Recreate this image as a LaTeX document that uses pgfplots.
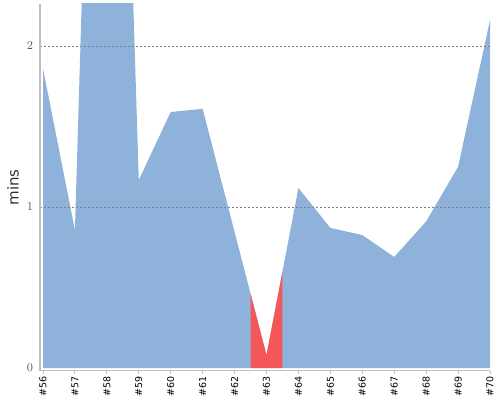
\documentclass[border=0pt]{standalone}
\usepackage{fontspec}
\setmainfont{DejaVu Sans}
\usepackage{pgfplots}
\pgfplotsset{compat=1.18}
\usepgfplotslibrary{fillbetween}
\definecolor{areablue}{HTML}{8FB2DA}
\definecolor{areared}{HTML}{F45757}
\begin{document}
\begin{tikzpicture}
\begin{axis}[
  at={(0,0)}, anchor=south west,
  scale only axis, width=337.5pt, height=275.25pt,
  xmin=55.906, xmax=70, ymin=-0.0186, ymax=2.261,
  axis x line*=bottom, axis y line*=left,
  axis line style={draw=black!25, line width=0.75pt, -},
  axis on top,
  xtick={56,...,70},
  xticklabels={\#56,\#57,\#58,\#59,\#60,\#61,\#62,\#63,\#64,\#65,\#66,\#67,\#68,\#69,\#70},
  ytick={1,2},
  extra y ticks={0},
  extra y tick style={grid=none},
  ymajorgrids,
  major grid style={dash pattern=on 1.5pt off 1.5pt, draw=black!50, line width=0.45pt},
  tick align=outside,
  major tick length=2.5pt,
  tick style={draw=black!25, line width=0.75pt},
  ytick style={draw=none},
  xticklabel style={rotate=90, anchor=east, font=\fontsize{7.1}{8}\selectfont, text=black, inner sep=1.5pt},
  yticklabel style={font=\fontsize{9.3}{11}\selectfont, text=black!65, inner sep=2.5pt},
  ylabel={mins},
  every axis y label/.style={at={(axis description cs:-0.06,0.5)}, rotate=90, anchor=center, font=\fontsize{11.25}{13}\selectfont, text=black!80},
]
\addplot[name path=A, draw=none] coordinates {(56,1.86) (57,0.857) (58,7.5) (59,1.168) (60,1.59) (61,1.61) (62,0.845) (63,0.08) (64,1.118) (65,0.87) (66,0.826) (67,0.69) (68,0.91) (69,1.25) (70,2.16)};
\addplot[name path=Z, draw=none] coordinates {(56,0) (70,0)};
\addplot[areablue] fill between[of=A and Z];
\addplot[areared] fill between[of=A and Z, soft clip={domain=62.5:63.5}];
\end{axis}
\pgfresetboundingbox
\path[use as bounding box] (-30pt,-21.75pt) rectangle (345pt,278.25pt);
\end{tikzpicture}
\end{document}
